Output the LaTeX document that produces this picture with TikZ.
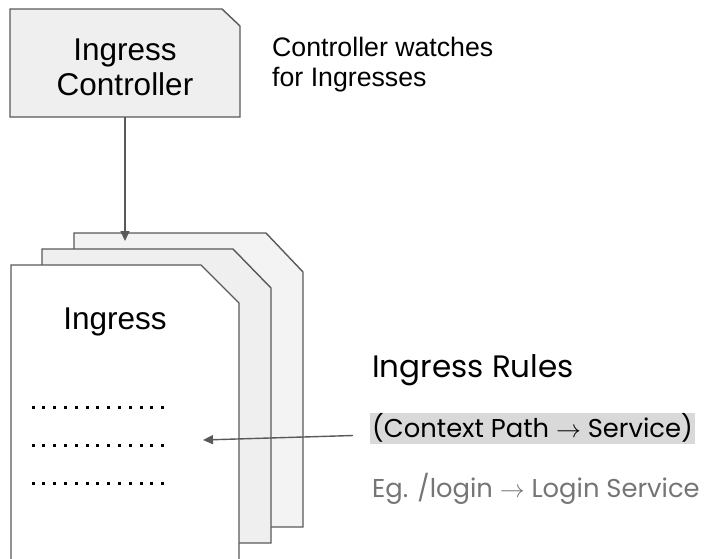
\documentclass[tikz,border=0pt]{standalone}
\usepackage{fontspec}
\setmainfont{Liberation Sans}
\newfontfamily\poppins{Poppins}
\usetikzlibrary{arrows.meta}
\definecolor{edge}{HTML}{595959}
\definecolor{boxfill}{HTML}{EFEFEF}
\definecolor{backfill}{HTML}{F3F3F3}
\definecolor{mark}{HTML}{D9D9D9}
\definecolor{hint}{HTML}{757575}

\begin{document}
\begin{tikzpicture}[x=1pt,y=-1pt]
      \tikzstyle{page}=[draw=edge,line width=1.4pt,line join=miter]
      \tikzstyle{arrow}=[draw=edge,line width=1.4pt,-{Triangle[length=10pt,width=9pt]}]
      \tikzstyle{label}=[inner sep=0pt,font=\fontsize{31.5}{35}\selectfont,align=center]
      \tikzstyle{rule}=[inner sep=0pt,anchor=base west,font=\poppins\fontsize{25.8}{30}\selectfont]
      \useasboundingbox (0,0) rectangle (704,558);
      \clip (0,0) rectangle (704,558);
      % controller
      \draw[page,fill=boxfill] (10,9) -- (222,9) -- (240,26) -- (240,117) -- (10,117) -- cycle;
      \node[label] (ctrl) at (125,67) {Ingress\\Controller};
      \node[inner sep=0pt,anchor=north west,align=left,font=\fontsize{26.7}{30}\selectfont] (watch) at (272,37) {Controller watches\\for Ingresses};
      % ingress pages
      \draw[page,fill=backfill] (74,233) -- (266,233) -- (303,272) -- (303,527) -- (74,527) -- cycle;
      \draw[page,fill=boxfill] (42,249) -- (233,249) -- (271,288) -- (271,543) -- (42,543) -- cycle;
      \draw[page,fill=white] (11,265) -- (201,265) -- (239,303) -- (239,580) -- (11,580) -- cycle;
      \node[label] (ingress) at (115,322) {Ingress};
      \foreach \y in {407,445,483}
        \foreach \i in {0,...,12}
          \fill (33+\i*10.8-1.5,\y-1.5) rectangle ++(3,3);
      \coordinate (top) at (125,233);
      \coordinate (tip) at (203,440);
      \draw[arrow] (125,117) -- ([yshift=-8pt]top);
      % rules
      \node[rule,font=\poppins\fontsize{31}{30}\selectfont] (rules) at (372,377) {Ingress Rules};
      \node[rule,fill=mark,inner xsep=2pt,inner ysep=0pt,text depth=7pt,text height=24pt] (ctx) at (370,437) {(Context Path \ensuremath{\rightarrow} Service)};
      \node[rule,text=hint] (eg) at (372,497) {Eg. /login \ensuremath{\rightarrow} Login Service};
      \draw[arrow] ([xshift=-17pt,yshift=-7pt]ctx.west) -- (tip);
\end{tikzpicture}
\end{document}
